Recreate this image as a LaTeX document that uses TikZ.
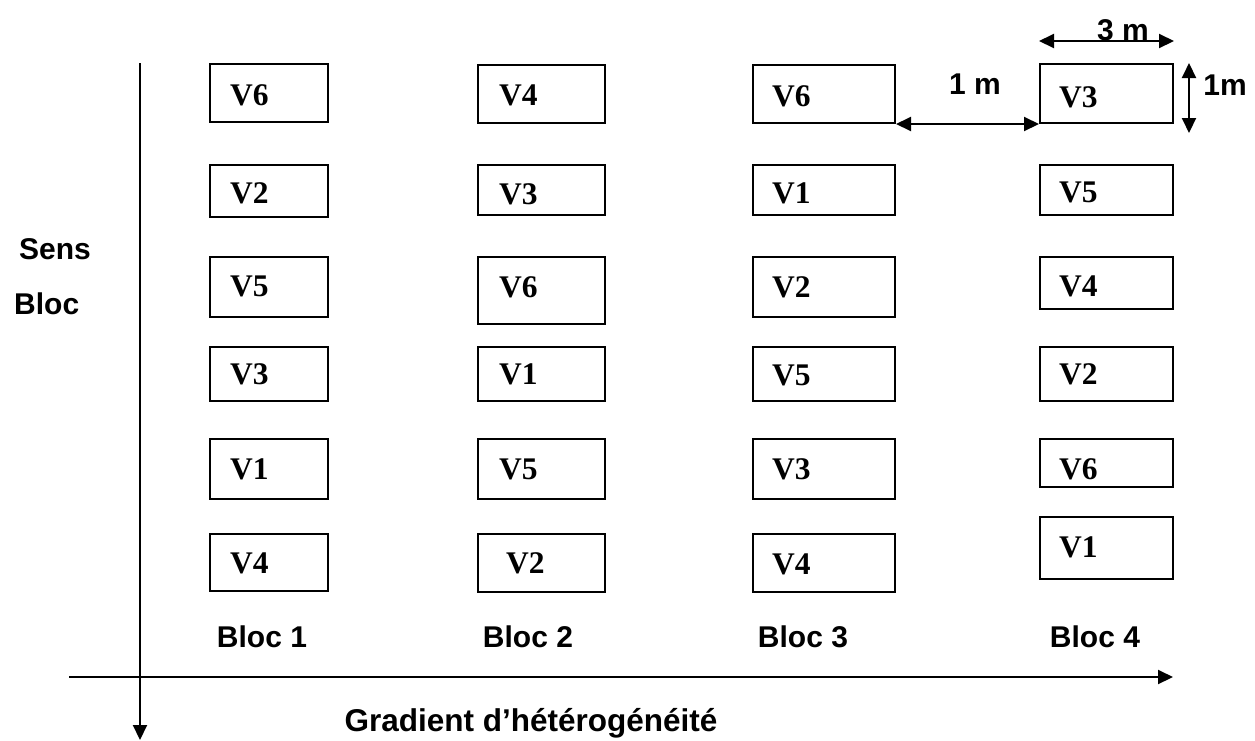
\documentclass[tikz,border=0pt]{standalone}
\usepackage{fontspec}
\setmainfont{Liberation Serif}
\setsansfont{Liberation Sans}
\usetikzlibrary{arrows.meta}

% one plot of the field: name, centre x, centre y, width, height, variety, label x, label y
\newcommand\parcelle[8]{%
  \node[plotbox, minimum width=#4pt, minimum height=#5pt] (#1) at (#2,#3) {};
  \node[varlab] (#1-t) at (#7,#8) {#6};
}

\begin{document}
\begin{tikzpicture}[x=1pt,y=-1pt,
  plotbox/.style={draw, line width=2pt, inner sep=0pt},
  varlab/.style={font=\bfseries\fontsize{31.5}{32}\selectfont, anchor=west, inner sep=0pt},
  sanslab/.style={font=\sffamily\bfseries\fontsize{30}{36}\selectfont, inner sep=0pt, anchor=base},
  dimline/.style={line width=2pt, {Triangle[length=15pt,width=14pt]}-{Triangle[length=15pt,width=14pt]}},
  axis/.style={line width=2pt, -{Triangle[length=15pt,width=14pt]}}]

\useasboundingbox (0,0) rectangle (1255,740);

% Bloc 1
\parcelle{b1a}{269}{93}{118}{58}{V6}{230}{95}
\parcelle{b1b}{269}{191}{118}{52}{V2}{230}{193}
\parcelle{b1c}{269}{287}{118}{60}{V5}{230}{286}
\parcelle{b1d}{269}{374}{118}{54}{V3}{230}{374}
\parcelle{b1e}{269}{469}{118}{60}{V1}{230}{469}
\parcelle{b1f}{269}{562.5}{118}{57}{V4}{230}{563}

% Bloc 2
\parcelle{b2a}{541.5}{94}{127}{58}{V4}{499}{95}
\parcelle{b2b}{541.5}{190}{127}{50}{V3}{499}{194}
\parcelle{b2c}{541.5}{290.5}{127}{67}{V6}{499}{287}
\parcelle{b2d}{541.5}{374}{127}{54}{V1}{499}{374}
\parcelle{b2e}{541.5}{469}{127}{60}{V5}{499}{469}
\parcelle{b2f}{541.5}{563}{127}{58}{V2}{506}{563}

% Bloc 3
\parcelle{b3a}{824}{94}{142}{58}{V6}{772}{96}
\parcelle{b3b}{824}{190}{142}{50}{V1}{772}{193}
\parcelle{b3c}{824}{287}{142}{60}{V2}{772}{287}
\parcelle{b3d}{824}{374}{142}{54}{V5}{772}{375}
\parcelle{b3e}{824}{469}{142}{60}{V3}{772}{469}
\parcelle{b3f}{824}{563}{142}{58}{V4}{772}{564}

% Bloc 4
\parcelle{b4a}{1106.5}{93.5}{133}{59}{V3}{1059}{97}
\parcelle{b4b}{1106.5}{190}{133}{50}{V5}{1059}{192}
\parcelle{b4c}{1106.5}{283}{133}{52}{V4}{1059}{286}
\parcelle{b4d}{1106.5}{374}{133}{54}{V2}{1059}{374}
\parcelle{b4e}{1106.5}{463}{133}{48}{V6}{1059}{469}
\parcelle{b4f}{1106.5}{548}{133}{62}{V1}{1059}{547}

% block names
\node[sanslab] (n1) at (262,647) {Bloc 1};
\node[sanslab] (n2) at (528,647) {Bloc 2};
\node[sanslab] (n3) at (803,647) {Bloc 3};
\node[sanslab] (n4) at (1095,647) {Bloc 4};

% dimensions
\coordinate (w1) at ([yshift=22pt]b4a.north west);
\coordinate (w2) at ([yshift=22pt]b4a.north east);
\draw[dimline] (w1) -- (w2);
\node[sanslab] (tw) at (1123,40) {3 m};

\draw[dimline] (b3a.south east) -- (b4a.south west);
\node[sanslab] (tg) at (975,94) {1 m};

\coordinate (h1) at ([xshift=15pt]b4a.north east);
\coordinate (h2) at ([xshift=15pt,yshift=-9pt]b4a.south east);
\draw[dimline] (h1) -- (h2);
\node[sanslab] (th) at (1225,95) {1m};

% axes
\coordinate (vtop) at (140,63);
\coordinate (vbot) at (140,740);
\draw[axis] (vtop) -- (vbot);
\node[sanslab, anchor=base west] (s1) at (19,259) {Sens};
\node[sanslab, anchor=base west] (s2) at (14,314) {Bloc};

\coordinate (hl) at (69,677);
\coordinate (hr) at (1173,677);
\draw[axis] (hl) -- (hr);
\node[sanslab, font=\sffamily\bfseries\fontsize{31.5}{36}\selectfont] (grad) at (531,731) {Gradient d’hétérogénéité};

\end{tikzpicture}
\end{document}
